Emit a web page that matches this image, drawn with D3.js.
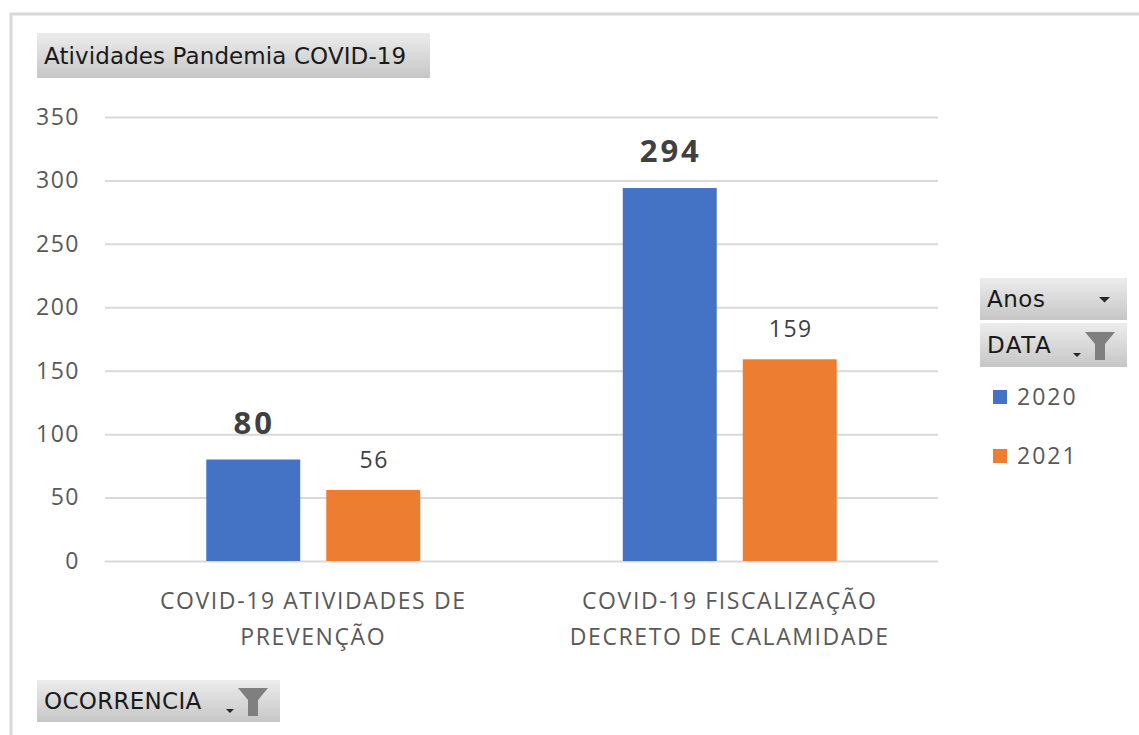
<!DOCTYPE html>
<html><head><meta charset="utf-8">
<script src="https://cdn.jsdelivr.net/npm/d3@7"></script>
<style>body{margin:0;background:#fff;} svg{display:block;}</style>
</head><body><svg id="c" width="1139" height="735"></svg>
<script>
const categories = [["COVID-19 ATIVIDADES DE","PREVENÇÃO"],["COVID-19 FISCALIZAÇÃO","DECRETO DE CALAMIDADE"]];
const seriesNames = ["2020","2021"];
const values2020 = [80, 294];
const values2021 = [56, 159];
const yTicks = [0,50,100,150,200,250,300,350];
const colors = ["#4472c4","#ed7d31"];

(function(){
const svg = d3.select("#c");
const font = "'Open Sans', 'Noto Sans', sans-serif";
const btnFont = "'DejaVu Sans', sans-serif";

const defs = svg.append("defs");
const g = defs.append("linearGradient").attr("id","btn").attr("x1",0).attr("y1",0).attr("x2",0).attr("y2",1);
g.append("stop").attr("offset","0%").attr("stop-color","#ececec");
g.append("stop").attr("offset","100%").attr("stop-color","#c6c6c6");

svg.append("rect").attr("x",11).attr("y",14).attr("width",1140).attr("height",740)
  .attr("fill","none").attr("stroke","#d9d9d9").attr("stroke-width",3);

const pl=105, pr=938, pt=117, pb=561;
const y = d3.scaleLinear().domain([0,350]).range([pb,pt]);
const x0 = d3.scaleBand().domain(d3.range(categories.length)).range([pl,pr]);
const x1 = d3.scaleBand().domain(seriesNames).range([0,x0.bandwidth()]).paddingInner(0.217).paddingOuter(0.844);

const yAxis = d3.axisLeft(y).tickValues(yTicks).tickSize(-(pr-pl)).tickPadding(25);
const ga = svg.append("g").attr("transform",`translate(${pl},0)`).call(yAxis);
ga.select(".domain").remove();
ga.selectAll(".tick line").attr("stroke","#d9d9d9").attr("stroke-width",2);
ga.selectAll(".tick text").attr("fill","#595959").style("font-family",font).style("font-size","23px").style("letter-spacing","1.5px");

const series = [values2020, values2021];
categories.forEach((c,i)=>{
  const gg = svg.append("g").attr("transform",`translate(${x0(i)},0)`);
  seriesNames.forEach((s,j)=>{
    const v = series[j][i];
    gg.append("rect").attr("x",x1(s)).attr("y",y(v)).attr("width",x1.bandwidth()).attr("height",y(0)-y(v)).attr("fill",colors[j]);
    const bold = j===0;
    gg.append("text").attr("x",x1(s)+x1.bandwidth()/2+1).attr("y",y(v)-(bold?26:22))
      .attr("text-anchor","middle").attr("fill","#404040")
      .style("font-family",font).style("font-size",bold?"31px":"23px").style("font-weight",bold?"bold":"normal")
      .style("letter-spacing",bold?"3px":"1.5px")
      .text(v);
  });
  c.forEach((line,k)=>{
    svg.append("text").attr("x",x0(i)+x0.bandwidth()/2).attr("y",609+k*36).attr("text-anchor","middle")
      .attr("fill","#595959").style("font-family",font).style("font-size","23px").style("letter-spacing","1.6px").text(line);
  });
});

function button(x,yy,w,h,label,icon,ls){
  const b = svg.append("g").attr("transform",`translate(${x},${yy})`);
  b.append("rect").attr("width",w).attr("height",h).attr("fill","url(#btn)");
  b.append("text").attr("x",7).attr("y",h/2+8).attr("fill","#1a1a1a").style("font-family",btnFont).style("font-size","23px").style("letter-spacing",(ls||0)+"px").text(label);
  if(icon==="arrow"){
    b.append("path").attr("d",`M${w-28},${h/2-2} l11,0 l-5.5,5.5 z`).attr("fill","#262626");
  } else if(icon==="filter"){
    const fy = h/2-13;
    b.append("path").attr("d",`M${w-54},${h/2+8} l8,0 l-4,4 z`).attr("fill","#262626");
    b.append("path").attr("d",`M${w-42},${fy} l30,0 l-10,12 l0,16 l-10,0 l0,-16 z`).attr("fill","#7f7f7f");
  }
}
button(37,33,393,45,"Atividades Pandemia COVID-19",null,0.1);
button(980,278,147,42,"Anos","arrow",0.5);
button(980,323,147,44,"DATA","filter",1.5);
button(37,680,243,42,"OCORRENCIA","filter",0.3);

seriesNames.forEach((s,j)=>{
  const ly = 397 + j*59;
  svg.append("rect").attr("x",993).attr("y",ly-7).attr("width",14).attr("height",14).attr("fill",colors[j]);
  svg.append("text").attr("x",1017).attr("y",ly+8).attr("fill","#595959").style("font-family",font).style("font-size","23px").style("letter-spacing","2px").text(s);
});
})();
</script></body></html>
